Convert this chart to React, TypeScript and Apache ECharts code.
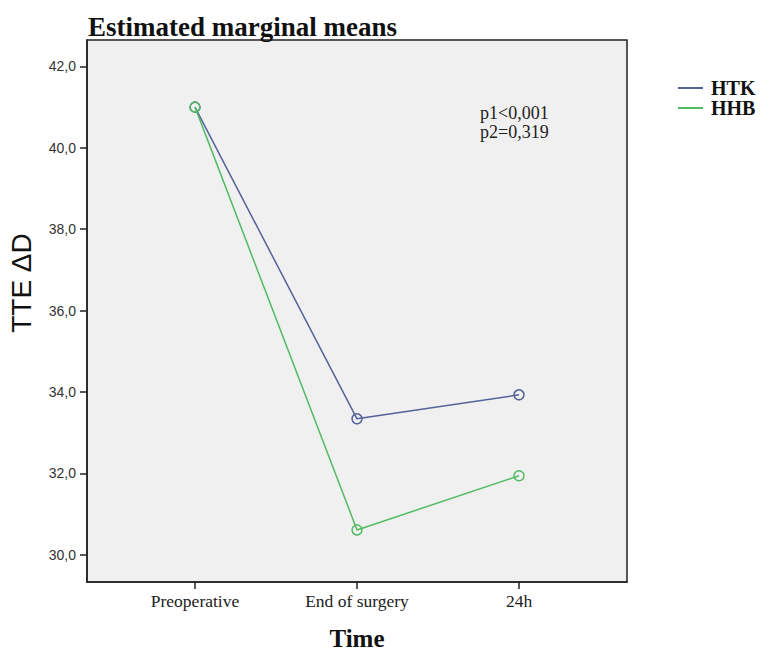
import React, { useEffect, useRef } from "react";
import * as echarts from "echarts";

const categories = ["Preoperative", "End of surgery", "24h"];
const seriesNames = ["HTK", "HHB"];
const htkValues = [41.0, 33.34, 33.93];
const hhbValues = [41.0, 30.61, 31.94];
const yTicks = [30, 32, 34, 36, 38, 40, 42];
const pTexts = ["p1<0,001", "p2=0,319"];
const colors = ["#55629a", "#52bb62"];

export default function App() {
  const ref = useRef<HTMLDivElement>(null);
  useEffect(() => {
    document.body.style.margin = "0";
    const chart = echarts.init(ref.current!, null, { renderer: "svg" });
    const xIdx = categories.map((_, i) => i);
    const mk = (name: string, vals: number[], color: string) => ({
      name,
      type: "line",
      data: vals.map((v, i) => [i, v]),
      symbol: "circle",
      symbolSize: 10,
      showSymbol: true,
      lineStyle: { color, width: 1.5 },
      itemStyle: { color: "rgba(0,0,0,0)", borderColor: color, borderWidth: 1.5 },
      emphasis: { disabled: true },
    });
    chart.setOption({
      animation: false,
      backgroundColor: "#ffffff",
      title: {
        text: "Estimated marginal means",
        left: 83,
        top: 8,
        textStyle: { fontFamily: "Liberation Serif", fontWeight: "bold", fontSize: 27, color: "#111" },
      },
      legend: {
        orient: "vertical",
        left: 673,
        top: 73,
        itemWidth: 25,
        itemHeight: 2,
        itemGap: 0,
        icon: "rect",
        data: seriesNames.map((n, i) => ({
          name: n,
          itemStyle: { color: colors[i], borderWidth: 0 },
        })),
        textStyle: {
          fontFamily: "Liberation Serif",
          fontWeight: "bold",
          fontSize: 20,
          lineHeight: 18,
          color: "#111",
          padding: [0, 0, 0, 3],
        },
      },
      grid: {
        left: 87,
        top: 40,
        width: 540,
        height: 546,
        show: true,
        backgroundColor: "#f0f0f0",
        borderColor: "#222",
        borderWidth: 1.5,
      },
      xAxis: {
        type: "value",
        min: -2 / 3,
        max: 8 / 3,
        name: "Time",
        nameLocation: "middle",
        nameGap: 44,
        nameTextStyle: { fontFamily: "Liberation Serif", fontWeight: "bold", fontSize: 25, color: "#111" },
        axisLine: { show: true, onZero: false, lineStyle: { color: "#222", width: 1.5 } },
        axisTick: { show: true, length: 7, customValues: xIdx, lineStyle: { color: "#222", width: 1.5 } },
        axisLabel: {
          customValues: xIdx,
          formatter: (v: number) => categories[Math.round(v)] ?? "",
          fontFamily: "Liberation Serif",
          fontSize: 17.5,
          color: "#222",
          margin: 10,
        },
        splitLine: { show: false },
      },
      yAxis: {
        type: "value",
        min: 29.33,
        max: 42.65,
        axisLine: { show: true, onZero: false, lineStyle: { color: "#222", width: 1.5 } },
        axisTick: { show: true, length: 7, customValues: yTicks, lineStyle: { color: "#222", width: 1.5 } },
        axisLabel: {
          customValues: yTicks,
          formatter: (v: number) => v.toFixed(1).replace(".", ","),
          fontFamily: "Liberation Sans",
          fontSize: 14,
          color: "#333",
          margin: 11,
        },
        splitLine: { show: false },
      },
      graphic: [
        {
          type: "text",
          x: 21,
          y: 283,
          rotation: Math.PI / 2,
          style: {
            text: "TTE ΔD",
            fontFamily: "Liberation Sans",
            fontSize: 28,
            fill: "#111",
            align: "center",
            verticalAlign: "middle",
          },
        },
        ...pTexts.map((t, i) => ({
          type: "text",
          x: 480,
          y: 113 + i * 19,
          style: {
            text: t,
            fontFamily: "Liberation Serif",
            fontSize: 18,
            fill: "#222",
            align: "left",
            verticalAlign: "middle",
          },
        })),
      ],
      series: [mk(seriesNames[0], htkValues, colors[0]), mk(seriesNames[1], hhbValues, colors[1])],
    });
    return () => chart.dispose();
  }, []);
  return <div ref={ref} style={{ width: 771, height: 656 }} />;
}
